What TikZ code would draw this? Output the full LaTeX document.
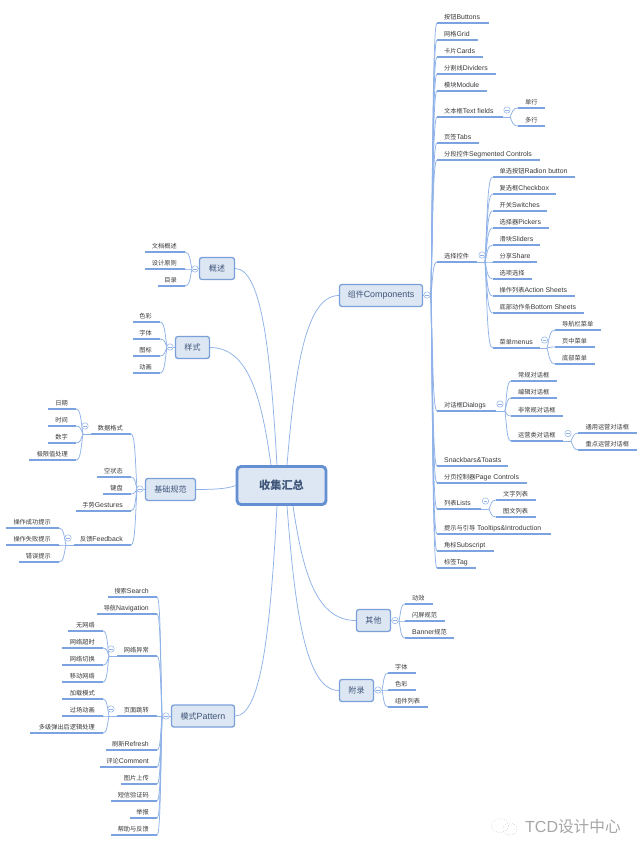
\documentclass[tikz,border=0pt]{standalone}
\usepackage{fontspec}
\setmainfont{Liberation Sans}
\newfontfamily\cjk[Scale=0.9]{Noto Sans CJK SC}
\newcommand\C[1]{{\cjk #1}}
\usetikzlibrary{calc,shapes.geometric}
\definecolor{linkc}{HTML}{8FB2E8}
\definecolor{ulc}{HTML}{7AA3E0}
\definecolor{boxf}{HTML}{DDE6F3}
\definecolor{boxd}{HTML}{7AA0DA}
\definecolor{mainb}{HTML}{6490D2}
\definecolor{boxt}{HTML}{3F5679}
\definecolor{leaft}{HTML}{3A3A3A}
\tikzset{
 leafnode/.style={inner xsep=0pt,inner ysep=1.7pt,text height=5pt,text depth=1.5pt,font=\fontsize{6.9}{8}\selectfont,text=leaft},
 ulink/.style={draw=ulc,line width=1.3pt},
 thinlink/.style={draw=linkc,line width=.75pt},
 topicbox/.style={draw=boxd,fill=boxf,line width=1.3pt,rounded corners=2.5pt,text=boxt,font=\fontsize{8.9}{10}\selectfont,inner sep=0pt},
 mainbox/.style={draw=mainb,fill=boxf,line width=2.9pt,rounded corners=4pt,text=boxt,font=\fontsize{12.4}{14}\selectfont\bfseries,inner sep=0pt},
 marker/.style={circle,draw=linkc,fill=white,line width=.5pt,minimum size=6.4pt,inner sep=0pt,
   path picture={\draw[linkc,line width=.35pt] ([xshift=1.5pt]path picture bounding box.west) -- ([xshift=-1.5pt]path picture bounding box.east);}},
 wmark/.style={draw=gray!55,line width=.5pt,dotted},
}
\newcommand\cvlink[2]{\draw[thinlink] let \p1=(#1),\p2=(#2) in (\p1) .. controls ({\x1+0.3*(\x2-\x1)},{\y1+0.5*(\y2-\y1)}) and ({\x1+0.3*(\x2-\x1)},\y2) .. (\p2);}
\newcommand\rootlink[2]{\draw[thinlink] let \p1=(#1),\p2=(#2) in (\p1) .. controls ({\x1+0.15*(\x2-\x1)},{\y1+0.55*(\y2-\y1)}) and ({\x1+0.35*(\x2-\x1)},\y2) .. (\p2);}
% name hub x1 x2 y text
\newcommand\leafR[6]{\pgfmathsetlengthmacro\mylw{(#4-#3)*1pt}%
 \node[leafnode,anchor=south west] (#1) at (#3,#5) {\makebox[\mylw][l]{\hspace{7pt}#6}};
 \draw[ulink] (#1.south west) -- (#1.south east);
 \cvlink{#2}{#1.south west}}
\newcommand\leafL[6]{\pgfmathsetlengthmacro\mylw{(#4-#3)*1pt}%
 \node[leafnode,anchor=south east] (#1) at (#4,#5) {\makebox[\mylw][r]{#6\hspace{8pt}}};
 \draw[ulink] (#1.south east) -- (#1.south west);
 \cvlink{#2}{#1.south east}}
% hub name, x, y, start
\newcommand\hubpt[4]{\coordinate (#1) at (#2,#3); \draw[thinlink] (#4) -- (#1);}
\begin{document}
\begin{tikzpicture}[x=1pt,y=-1pt]
\useasboundingbox (0,0) rectangle (640,855);
\fill[white] (0,0) rectangle (640,855);

% boxes
\node[mainbox,minimum width=89pt,minimum height=38pt] (main) at (281.5,485.5) {\C{收集汇总}};
\node[topicbox,minimum width=83pt,minimum height=22pt] (comp) at (381,295.5) {\C{组件}Components};
\node[topicbox,minimum width=35pt,minimum height=22pt] (gs) at (217,268.5) {\C{概述}};
\node[topicbox,minimum width=34pt,minimum height=22pt] (ys) at (192.5,347.5) {\C{样式}};
\node[topicbox,minimum width=50pt,minimum height=22pt] (jc) at (170.5,489.5) {\C{基础规范}};
\node[topicbox,minimum width=63pt,minimum height=22pt] (ms) at (203,716) {\C{模式}Pattern};
\node[topicbox,minimum width=34pt,minimum height=22pt] (qt) at (373.5,620.5) {\C{其他}};
\node[topicbox,minimum width=34pt,minimum height=22pt] (fl) at (356.5,690.5) {\C{附录}};

% main links
\rootlink{[xshift=5.5pt]main.north}{comp.west}
\rootlink{[xshift=-4.5pt]main.north}{gs.east}
\rootlink{[xshift=-10.5pt]main.north}{ys.east}
\rootlink{main.west}{jc.east}
\rootlink{[xshift=-4.5pt]main.south}{ms.east}
\rootlink{[xshift=11.5pt]main.south}{qt.west}
\rootlink{[xshift=5.5pt]main.south}{fl.west}

% Components
\hubpt{hc}{431}{295}{comp.east}
\leafR{r1}{hc}{437}{489}{23}{\C{按钮}Buttons}
\leafR{r2}{hc}{437}{478}{40}{\C{网格}Grid}
\leafR{r3}{hc}{437}{483}{57}{\C{卡片}Cards}
\leafR{r4}{hc}{437}{496}{74}{\C{分割线}Dividers}
\leafR{r5}{hc}{437}{487}{91}{\C{模块}Module}
\leafR{r6}{hc}{437}{503}{117}{\C{文本框}Text fields}
\hubpt{h6}{510}{117}{r6.south east}
\leafR{r61}{h6}{518}{545}{108}{\C{单行}}
\leafR{r62}{h6}{518}{545}{126}{\C{多行}}
\leafR{r7}{hc}{437}{479}{143}{\C{页签}Tabs}
\leafR{r8}{hc}{437}{540}{160}{\C{分段控件}Segmented Controls}
\leafR{r9}{hc}{437}{477}{262}{\C{选择控件}}
\hubpt{h9}{485}{262}{r9.south east}
\leafR{r91}{h9}{492.5}{575}{177}{\C{单选按钮}Radion button}
\leafR{r92}{h9}{492.5}{556}{194}{\C{复选框}Checkbox}
\leafR{r93}{h9}{492.5}{547}{211}{\C{开关}Switches}
\leafR{r94}{h9}{492.5}{549}{228}{\C{选择器}Pickers}
\leafR{r95}{h9}{492.5}{540}{245}{\C{滑块}Sliders}
\leafR{r96}{h9}{492.5}{537}{262}{\C{分享}Share}
\leafR{r97}{h9}{492.5}{532}{279}{\C{选项选择}}
\leafR{r98}{h9}{492.5}{575}{296}{\C{操作列表}Action Sheets}
\leafR{r99}{h9}{492.5}{584}{313}{\C{底部动作条}Bottom Sheets}
\leafR{r9a}{h9}{492.5}{540}{348}{\C{菜单}menus}
\hubpt{h9a}{547}{348}{r9a.south east}
\leafR{r9a1}{h9a}{555}{601}{330}{\C{导航栏菜单}}
\leafR{r9a2}{h9a}{555}{595}{347}{\C{页中菜单}}
\leafR{r9a3}{h9a}{555}{595}{364}{\C{底部菜单}}
\leafR{r10}{hc}{437}{496}{411}{\C{对话框}Dialogs}
\hubpt{h10}{505}{411}{r10.south east}
\leafR{r101}{h10}{511}{557}{381}{\C{常规对话框}}
\leafR{r102}{h10}{511}{557}{398}{\C{编辑对话框}}
\leafR{r103}{h10}{511}{563}{416}{\C{非常规对话框}}
\leafR{r104}{h10}{511}{563}{441}{\C{运营类对话框}}
\hubpt{h104}{571}{441}{r104.south east}
\leafR{r1041}{h104}{578.4}{637}{433}{\C{通用运营对话框}}
\leafR{r1042}{h104}{578.4}{637}{450}{\C{重点运营对话框}}
\leafR{r11}{hc}{437}{508}{466}{Snackbars\&Toasts}
\leafR{r12}{hc}{437}{527}{483}{\C{分页控制器}Page Controls}
\leafR{r13}{hc}{437}{481}{509}{\C{列表}Lists}
\hubpt{h13}{489}{509}{r13.south east}
\leafR{r131}{h13}{496}{536}{500}{\C{文字列表}}
\leafR{r132}{h13}{496}{536}{517}{\C{图文列表}}
\leafR{r14}{hc}{437}{551}{534}{\C{提示与引导} Tooltips\&Introduction}
\leafR{r15}{hc}{437}{494}{551}{\C{角标}Subscript}
\leafR{r16}{hc}{437}{476}{568}{\C{标签}Tag}

% 概述
\hubpt{hg}{192}{269}{gs.west}
\leafL{g1}{hg}{145}{185}{252}{\C{文档概述}}
\leafL{g2}{hg}{145}{185}{269}{\C{设计原则}}
\leafL{g3}{hg}{158}{185}{286}{\C{目录}}

% 样式
\hubpt{hy}{167}{347}{ys.west}
\leafL{y1}{hy}{133}{160}{322}{\C{色彩}}
\leafL{y2}{hy}{133}{160}{339}{\C{字体}}
\leafL{y3}{hy}{133}{160}{356}{\C{图标}}
\leafL{y4}{hy}{133}{160}{373}{\C{动画}}

% 基础规范
\hubpt{hj}{137}{489}{jc.west}
\leafL{j1}{hj}{91}{131}{434}{\C{数据格式}}
\hubpt{hj1}{83}{434}{j1.south west}
\leafL{j11}{hj1}{48}{76}{409}{\C{日期}}
\leafL{j12}{hj1}{48}{76}{426}{\C{时间}}
\leafL{j13}{hj1}{48}{76}{443}{\C{数字}}
\leafL{j14}{hj1}{29}{76}{460}{\C{极限值处理}}
\leafL{j2}{hj}{97}{131}{477}{\C{空状态}}
\leafL{j3}{hj}{103}{131}{494}{\C{键盘}}
\leafL{j4}{hj}{76}{131}{511}{\C{手势}Gestures}
\leafL{j5}{hj}{74}{131}{545}{\C{反馈}Feedback}
\hubpt{hj5}{66}{545}{j5.south west}
\leafL{j51}{hj5}{6}{59}{528}{\C{操作成功提示}}
\leafL{j52}{hj5}{6}{59}{545}{\C{操作失败提示}}
\leafL{j53}{hj5}{19}{59}{562}{\C{错误提示}}

% 模式
\hubpt{hm}{162}{716}{ms.west}
\leafL{m1}{hm}{108}{157}{597}{\C{搜索}Search}
\leafL{m2}{hm}{97}{157}{614}{\C{导航}Navigation}
\leafL{m3}{hm}{117}{157}{656}{\C{网络异常}}
\hubpt{hm3}{109}{656}{m3.south west}
\leafL{m31}{hm3}{68}{103}{631}{\C{无网络}}
\leafL{m32}{hm3}{62}{103}{648}{\C{网络超时}}
\leafL{m33}{hm3}{62}{103}{665}{\C{网络切换}}
\leafL{m34}{hm3}{62}{103}{682}{\C{移动网络}}
\leafL{m4}{hm}{117}{157}{716}{\C{页面跳转}}
\hubpt{hm4}{109}{716}{m4.south west}
\leafL{m41}{hm4}{62}{103}{699}{\C{加载模式}}
\leafL{m42}{hm4}{62}{103}{716}{\C{过场动画}}
\leafL{m43}{hm4}{30}{103}{733}{\C{多级弹出后逻辑处理}}
\leafL{m5}{hm}{106}{157}{750}{\C{刷新}Refresh}
\leafL{m6}{hm}{100}{157}{767}{\C{评论}Comment}
\leafL{m7}{hm}{121}{157}{784}{\C{图片上传}}
\leafL{m8}{hm}{111}{157}{801}{\C{短信验证码}}
\leafL{m9}{hm}{130}{157}{818}{\C{举报}}
\leafL{m10}{hm}{111}{157}{835}{\C{帮助与反馈}}

% 其他
\hubpt{hq}{399}{621}{qt.east}
\leafR{q1}{hq}{405}{433}{604}{\C{动效}}
\leafR{q2}{hq}{405}{445}{621}{\C{闪屏规范}}
\leafR{q3}{hq}{405}{454}{638}{Banner\C{规范}}

% 附录
\hubpt{hf}{382}{690}{fl.east}
\leafR{f1}{hf}{388}{416}{673}{\C{字体}}
\leafR{f2}{hf}{388}{416}{690}{\C{色彩}}
\leafR{f3}{hf}{388}{428}{707}{\C{组件列表}}

% markers
\node[marker] (k1) at (427,295) {};
\node[marker] (k2) at (507,110) {};
\node[marker] (k3) at (482,255) {};
\node[marker] (k4) at (544.5,340) {};
\node[marker] (k5) at (500,404) {};
\node[marker] (k6) at (568,433.5) {};
\node[marker] (k7) at (485.5,501) {};
\node[marker] (k8) at (195,269) {};
\node[marker] (k9) at (170,347) {};
\node[marker] (k10) at (140,489) {};
\node[marker] (k11) at (85,426) {};
\node[marker] (k12) at (68,538) {};
\node[marker] (k13) at (166,716) {};
\node[marker] (k14) at (111,649) {};
\node[marker] (k15) at (111,709) {};
\node[marker] (k16) at (395,620.5) {};
\node[marker] (k17) at (378,690) {};

% watermark
\node[anchor=west,inner sep=0pt,text=gray!70,font=\fontsize{16}{18}\selectfont] (wm) at (525,827) {TCD\C{\fontsize{17.4}{18}\selectfont 设计中心}};
\draw[wmark] (500,825.5) ellipse (8.5pt and 7pt);
\draw[wmark] (510,829) ellipse (7pt and 6pt);
\end{tikzpicture}
\end{document}
